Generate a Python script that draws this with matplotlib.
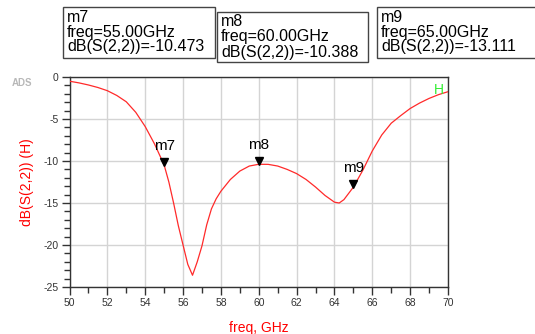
import matplotlib
matplotlib.use("Agg")
import matplotlib.pyplot as plt
from matplotlib.patches import Rectangle
from matplotlib.ticker import MultipleLocator
from matplotlib.transforms import offset_copy

plt.rcParams['font.family'] = ['Liberation Sans', 'DejaVu Sans']
plt.rcParams['axes.unicode_minus'] = False

# S(2,2) trace
freq = [50, 50.5, 51, 51.5, 52, 52.5, 53, 53.5, 54, 54.5, 55, 55.25, 55.5,
        55.75, 56, 56.25, 56.5, 56.75, 57, 57.25, 57.5, 57.75, 58, 58.5, 59,
        59.5, 60, 60.5, 61, 61.5, 62, 62.5, 63, 63.5, 64, 64.25, 64.5, 65,
        65.5, 66, 66.5, 67, 67.5, 68, 68.5, 69, 69.5, 70]
s22_db = [-0.5, -0.7, -0.95, -1.25, -1.63, -2.2, -2.95, -4.2, -5.9, -8.0,
          -10.47, -12.5, -15.0, -17.7, -20.0, -22.3, -23.6, -22.0, -20.1,
          -17.6, -15.7, -14.5, -13.6, -12.2, -11.2, -10.6, -10.39, -10.4,
          -10.6, -11.0, -11.5, -12.2, -13.1, -14.1, -14.9, -15.0, -14.6,
          -13.11, -11.1, -8.8, -6.9, -5.5, -4.6, -3.75, -3.1, -2.55, -2.1,
          -1.75]

# markers
mk_names = ["m7", "m8", "m9"]
mk_freq = [55.0, 60.0, 65.0]
mk_db = [-10.473, -10.388, -13.111]

W, H = 535, 334
fig = plt.figure(figsize=(W / 100, H / 100), dpi=100)
ax = fig.add_axes((69.5 / W, 1 - 287 / H, (448 - 69.5) / W, (287 - 77) / H))

ax.plot(freq, s22_db, color='#ff2a2a', lw=0.9, zorder=3)

ax.set_xlim(50, 70)
ax.set_ylim(-25, 0)
ax.xaxis.set_major_locator(MultipleLocator(2))
ax.xaxis.set_minor_locator(MultipleLocator(1))
ax.yaxis.set_major_locator(MultipleLocator(5))
ax.yaxis.set_minor_locator(MultipleLocator(1))
ax.grid(True, which='major', color='#d4d4d4', lw=1)
ax.tick_params(which='major', length=6, width=1, color='#333333',
               labelsize=7.5, labelcolor='#333333', pad=2)
ax.tick_params(which='minor', length=4, width=1, color='#333333')
for sp in ax.spines.values():
    sp.set_color('#333333')
    sp.set_linewidth(1)

ax.set_xlabel("freq, GHz", color='red', fontsize=10, labelpad=9)
ax.set_ylabel("dB(S(2,2)) (H)", color='red', fontsize=10, labelpad=7)

tri = offset_copy(ax.transData, fig=fig, y=3, units='dots')
for name, f, v in zip(mk_names, mk_freq, mk_db):
    ax.plot([f], [v], marker='v', color='black', markersize=6,
            transform=tri, zorder=4, clip_on=False)
    ax.annotate(name, (f, v), xytext=(0, 12), textcoords='offset pixels',
                ha='center', va='bottom', fontsize=11, zorder=5)

fig.text(439 / W, 1 - 90 / H, "H", ha='center', va='center',
         color='#33ee33', fontsize=10)
fig.text(12 / W, 1 - 83 / H, "ADS", color='#b8b8b8', fontsize=7,
         fontweight='bold', va='center')

# marker readout boxes (pixel coords: left, top, right, bottom)
boxes = [(63, 7, 215, 58), (217, 12, 368, 62), (377, 7, 560, 58)]
for (l, t, r, b), name, f, v in zip(boxes, mk_names, mk_freq, mk_db):
    fig.patches.append(Rectangle((l / W, 1 - b / H), (r - l) / W, (b - t) / H,
                                 transform=fig.transFigure, fill=True,
                                 facecolor='white', edgecolor='#444444',
                                 lw=1, zorder=1))
    lines = [name, f"freq={f:.2f}GHz", f"dB(S(2,2))={v:.3f}"]
    for i, s in enumerate(lines):
        fig.text((l + 4) / W, 1 - (t + 10 + i * 15) / H, s, fontsize=11.5,
                 va='center', ha='left', color='black', zorder=2)

fig.savefig("out.png", dpi=100)
